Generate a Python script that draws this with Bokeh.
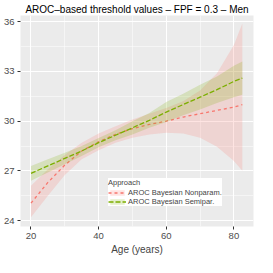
from bokeh.plotting import figure
from bokeh.models import Range1d, FixedTicker, Legend, LegendItem
from bokeh.embed import file_html
from bokeh.resources import INLINE

# Data
age = [20, 25, 30, 35, 40, 45, 50, 55, 60, 65, 70, 75, 80, 82.5]

nonpar_mean = [25.05, 26.3, 27.35, 28.2, 28.75, 29.2, 29.55, 29.8, 30.0, 30.25, 30.45, 30.65, 30.85, 31.0]
nonpar_low = [24.2, 25.5, 26.75, 27.7, 28.25, 28.7, 29.0, 29.2, 29.3, 29.25, 29.0, 28.45, 27.6, 27.0]
nonpar_up = [26.1, 27.1, 27.95, 28.7, 29.25, 29.7, 30.1, 30.45, 30.8, 31.2, 31.85, 32.9, 34.6, 35.9]

semi_mean = [26.85, 27.3, 27.75, 28.2, 28.7, 29.15, 29.6, 30.05, 30.55, 31.0, 31.45, 31.9, 32.4, 32.6]
semi_low = [26.4, 26.9, 27.4, 27.9, 28.42, 28.85, 29.2, 29.6, 29.95, 30.35, 30.7, 31.1, 31.45, 31.6]
semi_up = [27.3, 27.7, 28.1, 28.5, 28.98, 29.45, 30.0, 30.5, 31.15, 31.65, 32.2, 32.7, 33.35, 33.6]

x_ticks = [20, 40, 60, 80]
x_minor = [30, 50, 70]
y_ticks = [24, 27, 30, 33, 36]
y_minor = [25.5, 28.5, 31.5, 34.5]

labels = ["AROC Bayesian Nonparam.", "AROC Bayesian Semipar."]
colors = ["#F8766D", "#7CAE00"]

FONT = "Liberation Sans"

p = figure(width=257, height=257, output_backend="svg", toolbar_location=None,
           x_range=Range1d(16.9, 85.8), y_range=Range1d(23.64, 36.38),
           title="AROC–based threshold values – FPF = 0.3 – Men")

p.min_border_left = 0
p.min_border_right = 4
p.min_border_top = 0
p.min_border_bottom = 0
p.outline_line_color = None
p.background_fill_color = "#EBEBEB"
p.border_fill_color = "white"

p.title.text_font = FONT
p.title.text_font_size = "10px"
p.title.text_font_style = "normal"
p.title.align = "center"
p.title.text_color = "#000000"
p.title.standoff = 2

p.xaxis.ticker = FixedTicker(ticks=x_ticks, minor_ticks=x_minor)
p.yaxis.ticker = FixedTicker(ticks=y_ticks, minor_ticks=y_minor)
for ax in (p.xaxis, p.yaxis):
    ax.axis_line_color = None
    ax.major_tick_line_color = "#333333"
    ax.major_tick_out = 3
    ax.major_tick_in = 0
    ax.minor_tick_line_color = None
    ax.major_label_text_font = FONT
    ax.major_label_text_font_size = "9.5px"
    ax.major_label_text_color = "#4D4D4D"
    ax.major_label_standoff = 2
p.xaxis.axis_label = "Age (years)"
p.xaxis.axis_label_text_font = FONT
p.xaxis.axis_label_text_font_size = "10px"
p.xaxis.axis_label_text_font_style = "normal"
p.xaxis.axis_label_standoff = 2

p.grid.grid_line_color = "white"
p.grid.grid_line_width = 1
p.grid.minor_grid_line_color = "white"
p.grid.minor_grid_line_width = 0.5

items = []
series = [(nonpar_low, nonpar_up, nonpar_mean, "3 3"), (semi_low, semi_up, semi_mean, "5 2")]
for (lo, up, mn, dash), lab, col in zip(series, labels, colors):
    band = p.varea(x=age, y1=lo, y2=up, fill_color=col, fill_alpha=0.2)
    ln = p.line(x=age, y=mn, line_color=col, line_width=1.3, line_dash=dash)
    items.append(LegendItem(label=lab, renderers=[band, ln]))

legend = Legend(items=items, title="Approach", location=(88, 20))
legend.title_text_font = FONT
legend.title_text_font_size = "7.5px"
legend.title_text_font_style = "normal"
legend.title_standoff = 1
legend.label_text_font = FONT
legend.label_text_font_size = "7.5px"
legend.label_height = 7
legend.label_standoff = 2
legend.glyph_width = 18
legend.glyph_height = 7
legend.spacing = 0
legend.padding = 3
legend.margin = 0
legend.border_line_color = None
legend.background_fill_color = "white"
legend.background_fill_alpha = 1
p.add_layout(legend, "center")

open("out.html", "w").write(file_html(p, INLINE))
